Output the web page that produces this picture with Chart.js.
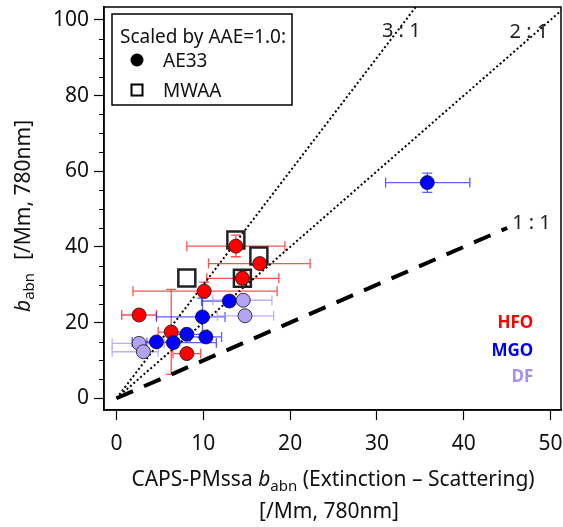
<!DOCTYPE html>
<html>
<head>
<meta charset="utf-8">
<script src="https://cdn.jsdelivr.net/npm/chart.js@4.4.0/dist/chart.umd.min.js"></script>
<style>
  html, body { margin: 0; padding: 0; background: #fff; }
</style>
</head>
<body>
<canvas id="grafico" width="563" height="527"></canvas>
<script>
// HFO samples (AE33 vs CAPS), with x/y error ranges
const hfoX = [13.75, 16.5, 14.5, 10.1, 2.6, 6.3, 8.1];
const hfoY = [40.2, 35.6, 31.7, 28.3, 22.0, 17.5, 11.8];
const hfoXLo = [8.1, 10.6, 10.4, 1.9, 0.6, 4.8, 6.5];
const hfoXHi = [19.4, 22.3, 18.7, 18.5, 4.6, 7.8, 9.7];
const hfoYLo = [37.4, 35.6, 30.3, 27.0, 22.0, 6.3, 11.8];
const hfoYHi = [43.1, 35.6, 33.4, 30.7, 22.0, 28.8, 11.8];

// MGO samples
const mgoX = [35.8, 13.0, 9.9, 8.1, 10.3, 4.6, 6.55];
const mgoY = [57.0, 25.7, 21.5, 16.9, 16.2, 14.9, 14.7];
const mgoXLo = [31.0, 9.8, 4.6, 6.0, 8.5, 1.8, 3.5];
const mgoXHi = [40.7, 14.8, 12.5, 10.5, 12.1, 7.0, 11.5];
const mgoYLo = [54.4, 24.5, 16.0, 16.9, 16.2, 14.9, 14.7];
const mgoYHi = [59.5, 27.0, 26.5, 16.9, 16.2, 14.9, 14.7];

// DF samples
const dfX = [14.6, 14.8, 2.6, 3.1];
const dfY = [25.9, 21.8, 14.5, 12.3];
const dfXLo = [11.1, 11.6, -0.5, -0.5];
const dfXHi = [17.9, 18.1, 5.5, 4.8];

// MWAA values (same scaling)
const mwaaX = [13.75, 16.4, 14.5, 8.1];
const mwaaY = [41.8, 37.6, 31.7, 31.8];

// reference ratio lines y = k*x, drawn up to xEnd
const ratioK = [1, 2, 3];
const ratioXEnd = [45, 52, 35];
const ratioNames = ["1 : 1", "2 : 1", "3 : 1"];
const ratioLabelX = [47.8, 47.5, 32.8];
const ratioLabelY = [46.6, 97.0, 97.3];

const xTicks = [0, 10, 20, 30, 40, 50];
const yTicks = [0, 5, 10, 15, 20, 25, 30, 35, 40, 45, 50, 55, 60, 65, 70, 75, 80, 85, 90, 95, 100];

const fam = "'Noto Sans', 'Open Sans', sans-serif";

function pts(xs, ys) {
  return xs.map((x, i) => ({ x: x, y: ys[i] }));
}

const gruppi = [
  { x: hfoX, y: hfoY, xLo: hfoXLo, xHi: hfoXHi, yLo: hfoYLo, yHi: hfoYHi, col: "rgba(255,50,50,0.85)" },
  { x: mgoX, y: mgoY, xLo: mgoXLo, xHi: mgoXHi, yLo: mgoYLo, yHi: mgoYHi, col: "rgba(40,40,255,0.75)" },
  { x: dfX, y: dfY, xLo: dfXLo, xHi: dfXHi, yLo: dfY, yHi: dfY, col: "rgba(175,155,245,0.8)" }
];

function disegnaErrori(chart) {
  const ctx = chart.ctx, xs = chart.scales.x, ys = chart.scales.y, a = chart.chartArea;
  ctx.save();
  ctx.beginPath();
  ctx.rect(a.left, a.top, a.right - a.left, a.bottom - a.top);
  ctx.clip();
  ctx.lineWidth = 1.3;
  const cap = 5;
  gruppi.forEach(g => {
    ctx.strokeStyle = g.col;
    for (let i = 0; i < g.x.length; i++) {
      const px = xs.getPixelForValue(g.x[i]), py = ys.getPixelForValue(g.y[i]);
      if (g.xLo[i] !== g.xHi[i]) {
        const l = xs.getPixelForValue(g.xLo[i]), r = xs.getPixelForValue(g.xHi[i]);
        ctx.beginPath();
        ctx.moveTo(l, py); ctx.lineTo(r, py);
        ctx.moveTo(l, py - cap); ctx.lineTo(l, py + cap);
        ctx.moveTo(r, py - cap); ctx.lineTo(r, py + cap);
        ctx.stroke();
      }
      if (g.yLo[i] !== g.yHi[i]) {
        const b = ys.getPixelForValue(g.yLo[i]), t = ys.getPixelForValue(g.yHi[i]);
        ctx.beginPath();
        ctx.moveTo(px, b); ctx.lineTo(px, t);
        ctx.moveTo(px - cap, b); ctx.lineTo(px + cap, b);
        ctx.moveTo(px - cap, t); ctx.lineTo(px + cap, t);
        ctx.stroke();
      }
    }
  });
  ctx.restore();
}

// text with an italic b and subscript "abn" in the middle
function testoBabn(ctx, prima, dopo, x, y, size) {
  const parti = [
    { t: prima, f: size + "px " + fam, dy: 0 },
    { t: "b", f: "italic " + size + "px " + fam, dy: 0 },
    { t: "abn", f: Math.round(size * 0.72) + "px " + fam, dy: size * 0.22 },
    { t: dopo, f: size + "px " + fam, dy: 0 }
  ];
  let w = 0;
  parti.forEach(p => { ctx.font = p.f; w += ctx.measureText(p.t).width; });
  let cx = x - w / 2;
  parti.forEach(p => {
    ctx.font = p.f;
    ctx.fillText(p.t, cx, y + p.dy);
    cx += ctx.measureText(p.t).width;
  });
}

const extra = {
  id: "extra",
  beforeDatasetsDraw(chart) {
    disegnaErrori(chart);
  },
  afterDraw(chart) {
    const ctx = chart.ctx, xs = chart.scales.x, ys = chart.scales.y, a = chart.chartArea;
    ctx.save();
    // frame
    ctx.strokeStyle = "#000";
    ctx.lineWidth = 1.5;
    ctx.strokeRect(a.left, a.top, a.right - a.left, a.bottom - a.top);

    // short ticks on y between labels
    ctx.lineWidth = 1.2;
    ctx.beginPath();
    yTicks.forEach(v => {
      if (v % 20 !== 0) {
        const py = Math.round(ys.getPixelForValue(v)) + 0.5;
        ctx.moveTo(a.left - 5, py); ctx.lineTo(a.left, py);
      }
    });
    ctx.stroke();

    ctx.textBaseline = "alphabetic";

    // x tick labels
    ctx.fillStyle = "#111";
    ctx.font = "21px " + fam;
    ctx.textAlign = "center";
    xTicks.forEach(v => {
      ctx.fillText(String(v), xs.getPixelForValue(v), a.bottom + 40);
    });

    // ratio labels
    ctx.font = "20px " + fam;
    ctx.fillStyle = "#222";
    ratioNames.forEach((n, i) => {
      ctx.fillText(n, xs.getPixelForValue(ratioLabelX[i]), ys.getPixelForValue(ratioLabelY[i]) + 7);
    });

    // fuel type labels
    ctx.textAlign = "right";
    ctx.font = "bold 17px " + fam;
    const tipi = [["HFO", "#ff0000", 20.2], ["MGO", "#0000ee", 12.8], ["DF", "#a58ff2", 5.9]];
    tipi.forEach(t => {
      ctx.fillStyle = t[1];
      ctx.fillText(t[0], xs.getPixelForValue(48.0), ys.getPixelForValue(t[2]) + 6);
    });

    // x axis title
    ctx.textAlign = "left";
    ctx.fillStyle = "#111";
    testoBabn(ctx, "CAPS-PMssa ", " (Extinction \u2013 Scattering)", 333, 486, 21);
    ctx.textAlign = "center";
    ctx.font = "21px " + fam;
    ctx.fillText("[/Mm, 780nm]", 329, 518);

    // y axis title, rotated
    ctx.save();
    ctx.translate(30, 312);
    ctx.rotate(-Math.PI / 2);
    ctx.textAlign = "left";
    ctx.font = "italic 21px " + fam;
    ctx.fillText("b", 0, 0);
    let w = ctx.measureText("b").width;
    ctx.font = "15px " + fam;
    ctx.fillText("abn", w, 4);
    w += ctx.measureText("abn").width;
    ctx.font = "21px " + fam;
    ctx.fillText("  [/Mm, 780nm]", w + 2, 0);
    ctx.restore();

    // legend box
    ctx.fillStyle = "#fff";
    ctx.fillRect(112, 14, 180, 91);
    ctx.strokeStyle = "#000";
    ctx.lineWidth = 1.5;
    ctx.strokeRect(112, 14, 180, 91);
    ctx.fillStyle = "#111";
    ctx.textAlign = "left";
    ctx.font = "19px " + fam;
    ctx.fillText("Scaled by AAE=1.0:", 120, 43);
    ctx.fillText("AE33", 163, 67);
    ctx.fillText("MWAA", 163, 97);
    ctx.fillStyle = "#000";
    ctx.beginPath();
    ctx.arc(137, 60, 6.5, 0, Math.PI * 2);
    ctx.fill();
    ctx.lineWidth = 2;
    ctx.strokeRect(131.5, 84.5, 11, 11);
    ctx.restore();
  }
};

const circ = (col) => ({
  pointRadius: 7,
  pointHoverRadius: 7,
  pointBackgroundColor: col,
  pointBorderColor: "rgba(20,20,20,0.8)",
  pointBorderWidth: 1,
  showLine: false
});

const datasets = [
  Object.assign({ label: "DF", data: pts(dfX, dfY) }, circ("#b4a2f4")),
  Object.assign({ label: "MGO", data: pts(mgoX, mgoY) }, circ("#0000ff")),
  Object.assign({ label: "HFO", data: pts(hfoX, hfoY) }, circ("#ff0000")),
  {
    label: "MWAA", data: pts(mwaaX, mwaaY), showLine: false,
    pointStyle: "rect", pointRadius: 12, pointHoverRadius: 12,
    pointBackgroundColor: "rgba(0,0,0,0)", pointBorderColor: "#222", pointBorderWidth: 2.5
  }
];

ratioK.forEach((k, i) => {
  datasets.push({
    label: ratioNames[i],
    data: [{ x: 0, y: 0 }, { x: ratioXEnd[i], y: k * ratioXEnd[i] }],
    showLine: true, pointRadius: 0, fill: false,
    borderColor: "#000",
    borderWidth: k === 1 ? 4 : 2,
    borderDash: k === 1 ? [18, 12] : [2, 2.5],
    borderCapStyle: "butt"
  });
});

// fixed axis sizes so the plot box sits at the same place every time
function fissaX(s) {
  s.height = 117;
  s.paddingLeft = 0; s.paddingRight = 0;
}
function fissaY(s) {
  s.width = 104;
  s.paddingTop = 0; s.paddingBottom = 0;
}

new Chart(document.getElementById("grafico"), {
  type: "scatter",
  data: { datasets: datasets },
  options: {
    responsive: false,
    animation: false,
    devicePixelRatio: 1,
    layout: { autoPadding: false, padding: { left: 0, top: 7, right: 2, bottom: 0 } },
    plugins: { legend: { display: false }, tooltip: { enabled: false } },
    scales: {
      x: {
        type: "linear", min: -1.44, max: 51.2,
        afterBuildTicks: s => { s.ticks = xTicks.map(v => ({ value: v })); },
        afterFit: fissaX,
        border: { display: true, color: "#000", width: 1.5 },
        grid: { display: true, drawOnChartArea: false, drawTicks: true, tickLength: 10, tickColor: "#000", tickWidth: 1.2 },
        ticks: { display: false }
      },
      y: {
        type: "linear", min: -3.1, max: 103.4,
        afterBuildTicks: s => { s.ticks = yTicks.map(v => ({ value: v })); },
        afterFit: fissaY,
        border: { display: true, color: "#000", width: 1.5 },
        grid: {
          display: true, drawOnChartArea: false, drawTicks: true, tickLength: 10, tickWidth: 1.2,
          tickColor: c => (c.tick && c.tick.value % 20 === 0) ? "#000" : "rgba(0,0,0,0)"
        },
        ticks: {
          font: { family: fam, size: 21 }, color: "#111", padding: 5, autoSkip: false,
          callback: v => (v % 20 === 0 ? String(v) : "")
        }
      }
    }
  },
  plugins: [extra]
});
</script>
</body>
</html>
